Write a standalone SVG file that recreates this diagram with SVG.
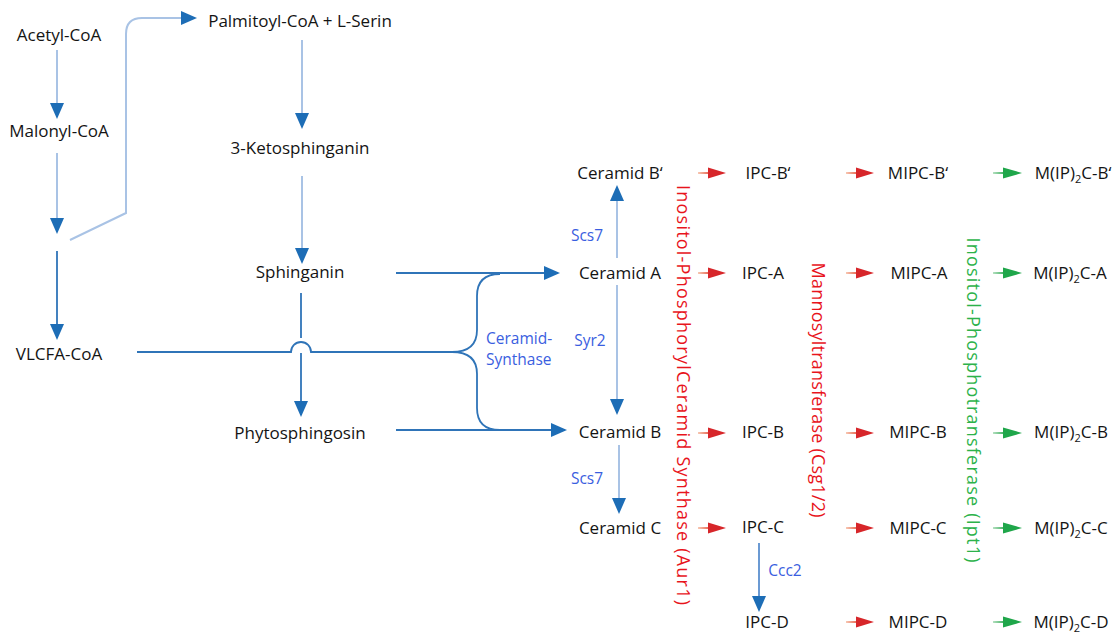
<svg xmlns="http://www.w3.org/2000/svg" width="1119" height="637" viewBox="0 0 1119 637">
  <style>
    .t { font-family: "Open Sans", "Liberation Sans", sans-serif; font-size: 17px; fill: #141414; text-anchor: middle; }
    .enz { font-family: "Open Sans", "Liberation Sans", sans-serif; font-size: 15.5px; fill: #3a5ee0; }
    .vred { font-family: "Open Sans", "Liberation Sans", sans-serif; font-size: 18px; fill: #e8141c; text-anchor: middle; }
    .vgreen { font-family: "Open Sans", "Liberation Sans", sans-serif; font-size: 18px; fill: #2cb24a; text-anchor: middle; }
    .sub { font-size: 11px; }
    .lb { fill: none; stroke: #a9c3e5; stroke-width: 2; }
    .mb { fill: none; stroke: #2f74b8; stroke-width: 1.8; }
  </style>
  <defs>
    <marker id="hb" viewBox="0 0 16 14" refX="14" refY="7" markerWidth="16" markerHeight="14" orient="auto" markerUnits="userSpaceOnUse">
      <path d="M0,0 L16,7 L0,14 z" fill="#1d6db6"/>
    </marker>
    <linearGradient id="gr" x1="0" y1="0" x2="1" y2="0">
      <stop offset="0" stop-color="#f7c9b4"/>
      <stop offset="1" stop-color="#e8604c"/>
    </linearGradient>
    <linearGradient id="gg" x1="0" y1="0" x2="1" y2="0">
      <stop offset="0" stop-color="#b5e0c0"/>
      <stop offset="1" stop-color="#3aae5c"/>
    </linearGradient>
    <g id="ra">
      <rect x="0" y="-1" width="12" height="2" fill="url(#gr)"/>
      <path d="M10,-5.5 L28,0 L10,5.5 z" fill="#d7262a"/>
    </g>
    <g id="ga">
      <rect x="0" y="-1" width="12" height="2" fill="url(#gg)"/>
      <path d="M10,-5.5 L29,0 L10,5.5 z" fill="#1fa64a"/>
    </g>
  </defs>

  <!-- connectors -->
  <g id="connectors">
    <path class="lb" d="M57,50 L57,117" marker-end="url(#hb)"/>
    <path class="lb" d="M57,153 L57,232" marker-end="url(#hb)"/>
    <path class="lb" d="M70,240 L126,213 L126,34 Q126,18 142,18 L195,18" marker-end="url(#hb)"/>
    <path class="mb" d="M57,251 L57,338" marker-end="url(#hb)"/>
    <path class="lb" d="M302,40 L302,127" marker-end="url(#hb)"/>
    <path class="lb" d="M302,176 L302,262" marker-end="url(#hb)"/>
    <path class="mb" d="M301,293 L301,338"/>
    <path class="mb" d="M301,353 L301,415" marker-end="url(#hb)"/>
    <path class="mb" d="M137,352 L291,352 A10,10 0 0 1 311,352 L452,352"/>
    <path class="mb" d="M452,352 Q477,352 477,330 L477,296 Q477,274 500,274"/>
    <path class="mb" d="M452,352 Q477,352 477,374 L477,408 Q477,430 500,430"/>
    <path class="mb" d="M396,273 L558,273" marker-end="url(#hb)"/>
    <path class="mb" d="M396,430 L565,430" marker-end="url(#hb)"/>
    <path class="lb" d="M617,258 L617,187" marker-end="url(#hb)"/>
    <path class="lb" d="M617,285 L617,413" marker-end="url(#hb)"/>
    <path class="lb" d="M619,445 L619,512" marker-end="url(#hb)"/>
    <path class="mb" d="M759,543 L759,610" marker-end="url(#hb)" style="stroke:#5b8fcf"/>

    <use href="#ra" x="698" y="173"/>
    <use href="#ra" x="698" y="273"/>
    <use href="#ra" x="698" y="433"/>
    <use href="#ra" x="698" y="528"/>

    <use href="#ra" x="846" y="173"/>
    <use href="#ra" x="846" y="273"/>
    <use href="#ra" x="846" y="433"/>
    <use href="#ra" x="846" y="528"/>
    <use href="#ra" x="846" y="622"/>

    <use href="#ga" x="993" y="173"/>
    <use href="#ga" x="993" y="273"/>
    <use href="#ga" x="993" y="433"/>
    <use href="#ga" x="993" y="528"/>
    <use href="#ga" x="993" y="622"/>
  </g>

  <!-- enzyme labels -->
  <g id="enzymes">
    <text class="enz" x="587" y="241" text-anchor="middle">Scs7</text>
    <text class="enz" x="590" y="346" text-anchor="middle">Syr2</text>
    <text class="enz" x="486" y="344">Ceramid-</text>
    <text class="enz" x="486" y="365">Synthase</text>
    <text class="enz" x="587" y="484" text-anchor="middle">Scs7</text>
    <text class="enz" x="785" y="576" text-anchor="middle">Ccc2</text>
    <text class="vred" transform="translate(677,395) rotate(90)" textLength="420" lengthAdjust="spacing">Inositol-PhosphorylCeramid Synthase (Aur1)</text>
    <text class="vred" transform="translate(812,390) rotate(90)" textLength="255" lengthAdjust="spacing">Mannosyltransferase (Csg1/2)</text>
    <text class="vgreen" transform="translate(967,400) rotate(90)" textLength="325" lengthAdjust="spacing">Inositol-Phosphotransferase (Ipt1)</text>
  </g>

  <!-- nodes -->
  <g id="acetyl"><text class="t" x="59" y="41">Acetyl-CoA</text></g>
  <g id="malonyl"><text class="t" x="59" y="137">Malonyl-CoA</text></g>
  <g id="vlcfa"><text class="t" x="59" y="360">VLCFA-CoA</text></g>
  <g id="palmitoyl"><text class="t" x="300" y="27">Palmitoyl-CoA + L-Serin</text></g>
  <g id="ketosphinganin"><text class="t" x="300" y="154">3-Ketosphinganin</text></g>
  <g id="sphinganin"><text class="t" x="300" y="278">Sphinganin</text></g>
  <g id="phytosphingosin"><text class="t" x="300" y="439">Phytosphingosin</text></g>

  <g id="ceramid-b2"><text class="t" x="620" y="179">Ceramid B‘</text></g>
  <g id="ceramid-a"><text class="t" x="620" y="279">Ceramid A</text></g>
  <g id="ceramid-b"><text class="t" x="620" y="438">Ceramid B</text></g>
  <g id="ceramid-c"><text class="t" x="620" y="534">Ceramid C</text></g>

  <g id="ipc-b2"><text class="t" x="768" y="179">IPC-B‘</text></g>
  <g id="ipc-a"><text class="t" x="763" y="279">IPC-A</text></g>
  <g id="ipc-b"><text class="t" x="763" y="438">IPC-B</text></g>
  <g id="ipc-c"><text class="t" x="763" y="533">IPC-C</text></g>
  <g id="ipc-d"><text class="t" x="767" y="628">IPC-D</text></g>

  <g id="mipc-b2"><text class="t" x="918" y="179">MIPC-B‘</text></g>
  <g id="mipc-a"><text class="t" x="919" y="279">MIPC-A</text></g>
  <g id="mipc-b"><text class="t" x="918" y="438">MIPC-B</text></g>
  <g id="mipc-c"><text class="t" x="918" y="534">MIPC-C</text></g>
  <g id="mipc-d"><text class="t" x="918" y="628">MIPC-D</text></g>

  <g id="mip2c-b2"><text class="t" x="1073" y="179">M(IP)<tspan class="sub" dy="4">2</tspan><tspan dy="-4">C-B‘</tspan></text></g>
  <g id="mip2c-a"><text class="t" x="1070" y="279">M(IP)<tspan class="sub" dy="4">2</tspan><tspan dy="-4">C-A</tspan></text></g>
  <g id="mip2c-b"><text class="t" x="1071" y="438">M(IP)<tspan class="sub" dy="4">2</tspan><tspan dy="-4">C-B</tspan></text></g>
  <g id="mip2c-c"><text class="t" x="1071" y="534">M(IP)<tspan class="sub" dy="4">2</tspan><tspan dy="-4">C-C</tspan></text></g>
  <g id="mip2c-d"><text class="t" x="1071" y="628">M(IP)<tspan class="sub" dy="4">2</tspan><tspan dy="-4">C-D</tspan></text></g>
</svg>
